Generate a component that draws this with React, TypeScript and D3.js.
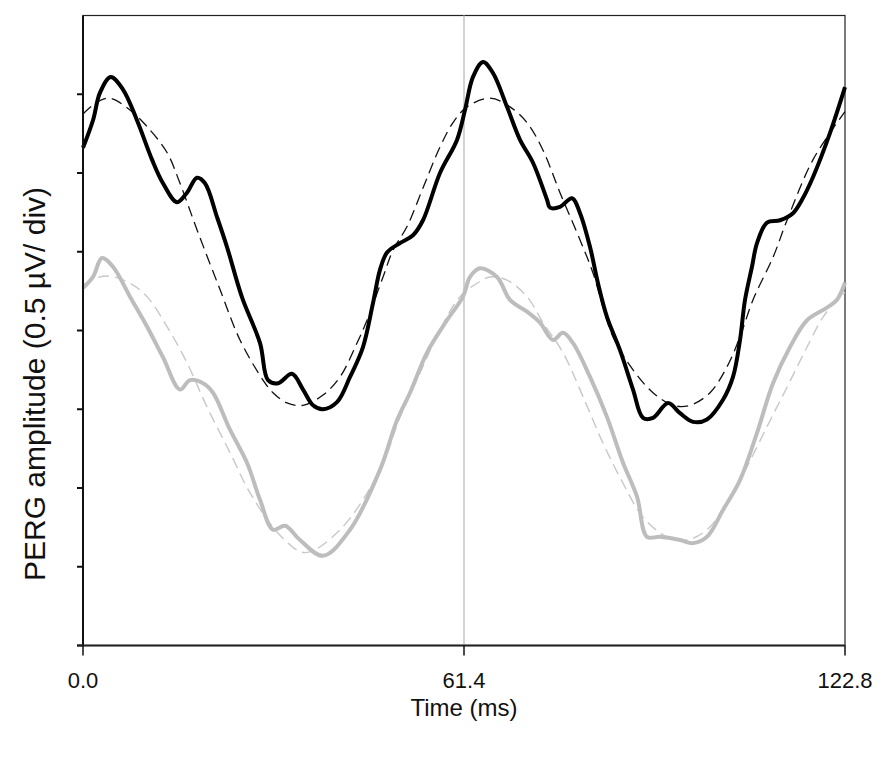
import React, { useEffect, useRef } from 'react';
import * as d3 from 'd3';

// time in ms, amplitude in divisions (0.5 µV / div) from the bottom of the frame
const blackTime = [0, 1.61, 2.74, 4.46, 6.45, 8.7, 11.12, 12.89, 15.15, 16.76, 18.37, 19.66, 21.6, 23.21, 25.63, 28.53, 29.82, 31.43, 33.68, 35.46, 37.07, 38.68, 40.93, 43.03, 45.12, 46.74, 47.86, 48.99, 51.09, 53.18, 54.79, 57.53, 60.27, 61.56, 62.85, 64.46, 66.07, 68.33, 70.43, 72.52, 74.78, 75.26, 76.87, 78.81, 80.1, 81.71, 82.99, 84.45, 86.54, 88.64, 90.25, 91.86, 94.28, 96.21, 98.31, 100.56, 103.14, 104.75, 105.88, 106.69, 107.81, 108.62, 110.23, 112.33, 114.42, 115.87, 117.65, 120.39, 122.8];
const blackAmp = [6.32, 6.67, 7.02, 7.22, 7.06, 6.67, 6.17, 5.87, 5.63, 5.75, 5.94, 5.87, 5.44, 5.06, 4.42, 3.84, 3.37, 3.33, 3.45, 3.25, 3.05, 3.0, 3.09, 3.41, 3.79, 4.35, 4.77, 4.99, 5.11, 5.21, 5.4, 6.0, 6.42, 6.8, 7.22, 7.41, 7.27, 6.84, 6.42, 6.13, 5.66, 5.56, 5.57, 5.68, 5.49, 5.06, 4.6, 4.17, 3.75, 3.25, 2.89, 2.89, 3.08, 2.95, 2.84, 2.87, 3.12, 3.41, 3.88, 4.39, 4.81, 5.11, 5.37, 5.4, 5.49, 5.66, 5.95, 6.51, 7.09];

const blackFitTime = [0, 2.26, 4.35, 7.57, 10.31, 13.54, 15.63, 18.37, 22.08, 25.3, 29.01, 30.62, 32.88, 35.46, 38.68, 41.42, 44.16, 45.77, 48.35, 49.96, 52.22, 54.79, 57.53, 59.63, 61.89, 65.59, 68.81, 71.55, 74.13, 76.87, 80.1, 82.19, 85.41, 88.64, 91.86, 95.08, 97.82, 101.05, 103.79, 105.88, 107.98, 111.2, 113.46, 117.65, 122.8];
const blackFitAmp = [6.75, 6.9, 6.95, 6.8, 6.59, 6.26, 5.87, 5.28, 4.52, 3.88, 3.37, 3.21, 3.08, 3.05, 3.18, 3.41, 3.84, 4.13, 4.68, 5.02, 5.32, 5.81, 6.33, 6.64, 6.84, 6.95, 6.84, 6.64, 6.29, 5.75, 5.15, 4.73, 3.92, 3.5, 3.21, 3.05, 3.05, 3.21, 3.54, 3.92, 4.39, 4.93, 5.4, 6.17, 6.78];

const greyTime = [0, 1.61, 3.06, 4.83, 7.57, 10.31, 12.89, 15.63, 17.24, 19.34, 20.95, 23.69, 26.43, 28.53, 30.62, 32.56, 34.97, 38.68, 43.03, 47.86, 50.6, 52.7, 55.44, 58.66, 61.24, 62.37, 63.98, 66.72, 68.81, 71.55, 73.65, 75.74, 77.35, 78.97, 81.71, 84.45, 87.03, 89.28, 90.89, 92.99, 96.21, 98.31, 100.56, 103.14, 105.88, 108.62, 111.2, 113.94, 116.68, 119.9, 121.51, 122.8];
const greyAmp = [4.54, 4.68, 4.92, 4.81, 4.43, 4.05, 3.66, 3.25, 3.37, 3.33, 3.21, 2.74, 2.32, 1.85, 1.47, 1.52, 1.34, 1.14, 1.47, 2.23, 2.86, 3.21, 3.72, 4.13, 4.43, 4.68, 4.79, 4.68, 4.39, 4.24, 4.1, 3.88, 3.97, 3.84, 3.41, 2.9, 2.32, 1.89, 1.38, 1.38, 1.34, 1.3, 1.38, 1.72, 2.1, 2.7, 3.33, 3.79, 4.13, 4.29, 4.39, 4.61];

const greyFitTime = [0, 2.26, 4.35, 7.57, 10.31, 13.54, 16.76, 19.98, 23.69, 26.91, 31.75, 35.78, 41.42, 47.86, 51.09, 54.31, 57.53, 60.76, 63.5, 65.59, 68.33, 71.55, 74.13, 77.35, 80.58, 83.8, 87.03, 90.25, 94.12, 97.34, 100.56, 103.79, 107.01, 110.23, 113.46, 116.68, 119.26, 122.0, 122.8];
const greyFitAmp = [4.58, 4.67, 4.69, 4.6, 4.43, 4.05, 3.59, 3.03, 2.45, 1.94, 1.4, 1.18, 1.47, 2.23, 2.9, 3.46, 4.01, 4.43, 4.6, 4.68, 4.64, 4.43, 4.1, 3.72, 3.16, 2.57, 2.06, 1.63, 1.38, 1.34, 1.47, 1.81, 2.27, 2.78, 3.28, 3.79, 4.17, 4.43, 4.48];

const xTicks = [0, 61.4, 122.8];
const yTicks = [0, 1, 2, 3, 4, 5, 6, 7];
const gridTimes = [61.4];

const W = 883;
const H = 758;

const App = () => {
  const svgRef = useRef<SVGSVGElement>(null);

  useEffect(() => {
    const margin = { top: 15.5, right: 38, bottom: 112.5, left: 83 };
    const innerW = W - margin.left - margin.right;
    const innerH = H - margin.top - margin.bottom;

    const svg = d3.select(svgRef.current);
    svg.selectAll('*').remove();

    const x = d3.scaleLinear().domain([0, 122.8]).range([0, innerW]);
    const y = d3.scaleLinear().domain([0, 8]).range([innerH, 0]);

    const g = svg.append('g').attr('transform', `translate(${margin.left},${margin.top})`);

    // frame (thin top / right)
    g.append('rect')
      .attr('x', 0).attr('y', 0)
      .attr('width', innerW).attr('height', innerH)
      .attr('fill', 'none')
      .attr('stroke', '#222')
      .attr('stroke-width', 1.2);

    // vertical reference line
    gridTimes.forEach(t => {
      g.append('line')
        .attr('x1', x(t)).attr('x2', x(t))
        .attr('y1', 0).attr('y2', innerH)
        .attr('stroke', '#c4c4c4')
        .attr('stroke-width', 1.5);
    });

    const line = d3.line<[number, number]>()
      .x(d => x(d[0]))
      .y(d => y(d[1]))
      .curve(d3.curveCatmullRom.alpha(0.5));

    const zip = (a: number[], b: number[]) => a.map((v, i) => [v, b[i]] as [number, number]);

    // grey traces
    g.append('path')
      .attr('d', line(zip(greyFitTime, greyFitAmp)))
      .attr('fill', 'none')
      .attr('stroke', '#c8c8c8')
      .attr('stroke-width', 1.4)
      .attr('stroke-dasharray', '11,6');
    g.append('path')
      .attr('d', line(zip(greyTime, greyAmp)))
      .attr('fill', 'none')
      .attr('stroke', '#bdbdbd')
      .attr('stroke-width', 4)
      .attr('stroke-linejoin', 'round');

    // black traces
    g.append('path')
      .attr('d', line(zip(blackFitTime, blackFitAmp)))
      .attr('fill', 'none')
      .attr('stroke', '#111')
      .attr('stroke-width', 1.3)
      .attr('stroke-dasharray', '11,6');
    g.append('path')
      .attr('d', line(zip(blackTime, blackAmp)))
      .attr('fill', 'none')
      .attr('stroke', '#000')
      .attr('stroke-width', 4)
      .attr('stroke-linejoin', 'round');

    // left axis
    g.append('line')
      .attr('x1', 0).attr('x2', 0).attr('y1', 0).attr('y2', innerH)
      .attr('stroke', '#111').attr('stroke-width', 2);
    yTicks.forEach(v => {
      g.append('line')
        .attr('x1', -6).attr('x2', 0)
        .attr('y1', y(v)).attr('y2', y(v))
        .attr('stroke', '#111').attr('stroke-width', 2);
    });

    // bottom axis
    g.append('line')
      .attr('x1', -6).attr('x2', innerW).attr('y1', innerH).attr('y2', innerH)
      .attr('stroke', '#222').attr('stroke-width', 2.2);
    xTicks.forEach(t => {
      g.append('line')
        .attr('x1', x(t)).attr('x2', x(t))
        .attr('y1', innerH).attr('y2', innerH + 10)
        .attr('stroke', '#111').attr('stroke-width', 1.5);
      g.append('text')
        .attr('x', x(t))
        .attr('y', innerH + 42)
        .attr('text-anchor', 'middle')
        .style('font-family', 'Liberation Sans, Arial, sans-serif')
        .style('font-size', '22px')
        .style('fill', '#111')
        .text(t.toFixed(1));
    });

    // axis titles
    g.append('text')
      .attr('x', innerW / 2)
      .attr('y', innerH + 70)
      .attr('text-anchor', 'middle')
      .style('font-family', 'Liberation Sans, Arial, sans-serif')
      .style('font-size', '24px')
      .style('fill', '#111')
      .text('Time (ms)');

    svg.append('text')
      .attr('transform', `translate(45,384) rotate(-90)`)
      .attr('text-anchor', 'middle')
      .style('font-family', 'Liberation Sans, Arial, sans-serif')
      .style('font-size', '30px')
      .style('fill', '#111')
      .text('PERG amplitude (0.5 µV/ div)');
  }, []);

  return (
    <svg
      ref={svgRef}
      width={W}
      height={H}
      style={{ position: 'absolute', left: 0, top: 0, background: '#fff' }}
    />
  );
};

export default App;
